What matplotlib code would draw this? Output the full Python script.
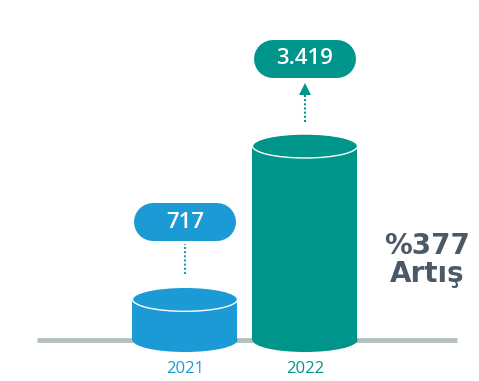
import matplotlib
matplotlib.use("Agg")
import matplotlib.pyplot as plt
from matplotlib.patches import Ellipse, Rectangle

years = ["2021", "2022"]
values = [717, 3419]
labels = ["717", "3.419"]
colors = ["#1b9ad6", "#00958a"]
growth_lines = ["%377", "Artış"]

W, H = 479, 381
fig = plt.figure(figsize=(W / 100, H / 100), dpi=100)
ax = fig.add_axes([0, 0, 1, 1])
ax.axis("off")

s = values[1] / 194.0  # data units per pixel (vertical)
base_px = 41
ax.set_xlim(0, W)
ax.set_ylim(-base_px * s, (H - base_px) * s)

xs = [185, 305]
bw = 105
eh = 24 * s  # ellipse height in data units

# baseline
ax.plot([37, 457], [0, 0], color="#b4bfc0", lw=3.5, solid_capstyle="butt", zorder=1)

font = "Open Sans"
for i, (x, v, c) in enumerate(zip(xs, values, colors)):
    ax.add_patch(Ellipse((x, 0), bw, eh, facecolor=c, edgecolor="none", zorder=2))
    ax.add_patch(Rectangle((x - bw / 2, 0), bw, v, facecolor=c, edgecolor="none", zorder=2))
    ax.add_patch(Ellipse((x, v), bw, eh, facecolor=c, edgecolor="white", lw=1.0, zorder=3))
    ax.text(x, -29 * s, years[i], ha="center", va="center", color=c,
            fontsize=12, family=font, zorder=4)

# pills (thick round-capped line segments)
pill_w, pill_h = 102, 38
lw_pt = pill_h * 72 / 100
offsets_px = [77, 87]
for i, (x, v, c) in enumerate(zip(xs, values, colors)):
    cy = v + offsets_px[i] * s
    half = pill_w / 2 - pill_h / 2
    ax.plot([x - half, x + half], [cy, cy], color=c, lw=lw_pt,
            solid_capstyle="round", zorder=4)
    ax.text(x, cy, labels[i], ha="center", va="center", color="white",
            fontsize=16, fontweight="semibold", family=font, zorder=5)
    pill_bottom = cy - pill_h / 2 * s
    top_edge = v + 12 * s
    if i == 0:
        ax.plot([x, x], [top_edge + 13 * s, pill_bottom - 3 * s], color=c,
                lw=1.5, ls=(0, (1, 1)), zorder=3)
    else:
        tip = pill_bottom - 6 * s
        ax.plot([x, x], [top_edge + 12 * s, tip - 8 * s], color=c,
                lw=1.5, ls=(0, (1, 1)), zorder=3)
        ax.plot([x], [tip - 5 * s], marker="^", markersize=9, color=c,
                markeredgewidth=0, zorder=3)

ax.text(427, (340 - 246) * s, growth_lines[0], ha="center", va="center",
        color="#4b5967", fontsize=20, fontweight="bold", family="DejaVu Sans")
ax.text(427, (340 - 274) * s, growth_lines[1], ha="center", va="center",
        color="#4b5967", fontsize=20, fontweight="bold", family="DejaVu Sans")

fig.savefig("out.png", dpi=100)
